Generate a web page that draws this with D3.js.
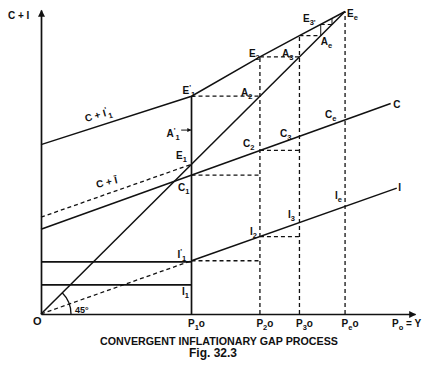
<!DOCTYPE html>
<html>
<head>
<meta charset="utf-8">
<script src="https://cdn.jsdelivr.net/npm/d3@7"></script>
<style>
  body { margin: 0; background: #fff; }
  text { font-family: "Liberation Sans", Arial, sans-serif; font-weight: bold; fill: #111; }
</style>
</head>
<body>
<script>
// values, in units where O = (0,0) and Ee = (100,100)
var periods = ["1", "2", "3", "e"];
var pValues = [49.5, 72, 85, 100];        // P1o, P2o, P3o, Peo
var eValues = [72, 85, 92, 100];          // E'1, E2, E3', Ee on the C + I' line
var cValues = [45.9, 54.1, 58.8, 64.2];   // C1, C2, C3, Ce
var iValues = [17.6, 25.6, 30.2, 35.5];   // I'1, I2, I3, Ie
var topStart = 56;                        // C + I'1 at the vertical axis
var cLine = [[0, 28], [115, 69.6]];
var ciLine = [[0, 32], [49.5, 49.5]];     // dashed C + I up to E1
var iLine = [[0, 0], [49.5, 17.6], [117, 41.6]];
var iLevels = [17.2, 9.6];                // flat I'1 and I1 lines
var nextStep = [95.7, 97.7];

var width = 440, height = 371;

var svg = d3.select("body").append("svg")
    .attr("width", width)
    .attr("height", height);

var x = d3.scaleLinear().domain([0, 123]).range([41, 415]);
var y = d3.scaleLinear().domain([0, 100.5]).range([314, 10]);

var line = d3.line()
    .x(function(d) { return x(d[0]); })
    .y(function(d) { return y(d[1]); });

// arrow heads
var defs = svg.append("defs");
function marker(id, w, h) {
  defs.append("marker")
      .attr("id", id)
      .attr("markerUnits", "userSpaceOnUse")
      .attr("viewBox", "0 0 10 10")
      .attr("refX", 9).attr("refY", 5)
      .attr("markerWidth", w).attr("markerHeight", h)
      .attr("orient", "auto")
    .append("path")
      .attr("d", "M0,0 L10,5 L0,10 Z")
      .attr("fill", "#111");
}
marker("arrow", 9, 7);
marker("small", 5, 4);

// axes
svg.append("g")
    .attr("transform", "translate(0," + y(0) + ")")
    .call(d3.axisBottom(x).tickValues([]).tickSizeOuter(0));
svg.append("g")
    .attr("transform", "translate(" + x(0) + ",0)")
    .call(d3.axisLeft(y).tickValues([]).tickSizeOuter(0));
svg.selectAll(".domain")
    .attr("stroke", "#111")
    .attr("stroke-width", 1.7)
    .attr("marker-end", "url(#arrow)");

function draw(pts, dashed, w) {
  return svg.append("path")
      .attr("d", line(pts))
      .attr("fill", "none")
      .attr("stroke", "#111")
      .attr("stroke-width", w || (dashed ? 1.3 : 1.5))
      .attr("stroke-dasharray", dashed ? "4,3" : null);
}

// solid lines
var topLine = [[0, topStart]].concat(pValues.map(function(p, i) { return [p, eValues[i]]; }));
draw(topLine);
draw([[0, 0], [100, 100]]);
draw(cLine);
draw([iLine[1], iLine[2]]);
iLevels.forEach(function(v) { draw([[0, v], [pValues[0], v]], false, 1.8); });
draw([[pValues[0], 0], [pValues[0], eValues[0]]], false, 1.7);

// dashed lines
draw(ciLine, true);
draw([iLine[0], iLine[1]], true);
pValues.slice(1).forEach(function(p, i) { draw([[p, 0], [p, eValues[i + 1]]], true); });
for (var k = 0; k < 3; k++) {
  draw([[pValues[k], eValues[k]], [eValues[k], eValues[k]]], true);
}
for (var k = 0; k < 2; k++) {
  draw([[pValues[k], cValues[k]], [pValues[k + 1], cValues[k]]], true);
  draw([[pValues[k], iValues[k]], [pValues[k + 1], iValues[k]]], true);
}
draw([[eValues[2], eValues[2]], [eValues[2], nextStep[0]]], false, 1);
draw([[eValues[2], nextStep[0]], [nextStep[0], nextStep[0]]], true, 1);
draw([[nextStep[0], nextStep[0]], [nextStep[0], nextStep[1]]], false, 1);

// 45 degree arc
var arc = d3.path();
arc.moveTo(x(0) + 30, y(0));
arc.arc(x(0), y(0), 30, 0, -Math.PI / 4, true);
svg.append("path").attr("d", arc.toString())
    .attr("fill", "none").attr("stroke", "#111").attr("stroke-width", 1.3);

// labels with small subscripts / primes
function label(px, py, parts, size, anchor) {
  size = size || 10;
  var t = svg.append("text").attr("x", px).attr("y", py).attr("font-size", size);
  if (anchor) t.attr("text-anchor", anchor);
  var shift = 0;
  parts.forEach(function(p) {
    var s = typeof p === "string" ? { t: p } : p;
    var target = s.sub ? 3 : s.sup ? -4 : 0;
    var ts = t.append("tspan").attr("dy", target - shift).text(s.t);
    if (s.sub || s.sup) ts.attr("font-size", size * 0.75);
    shift = target;
  });
  return t;
}
function at(d, dx, dy, parts, size) {
  return label(x(d[0]) + dx, y(d[1]) + dy, parts, size);
}

var P = pValues, E = eValues, C = cValues, I = iValues;
at([P[0], E[0]], -9, -2, ["E", { t: "'", sup: true }, { t: "1", sub: true }]);
at([P[0], 60], -25, 4.5, ["A", { t: "'", sup: true }, { t: "1", sub: true }]);
draw([[P[0] - 3.4, 60.8], [P[0] - 0.2, 60.8]], false, 1).attr("marker-end", "url(#small)");
at([P[0], P[0]], -15.5, -5, ["E", { t: "1", sub: true }]);
at([P[0], C[0]], -13.5, 16, ["C", { t: "1", sub: true }]);
at([P[1], E[1]], -11, 0, ["E", { t: "2", sub: true }]);
at([P[1], P[1]], -19, 0, ["A", { t: "2", sub: true }]);
at([P[2], P[2]], -17.5, 0, ["A", { t: "3", sub: true }]);
at([P[2], E[2]], 3.5, -14, ["E", { t: "3", sub: true }, { t: "'", sub: true }]);
at([P[3], E[3]], 2, 5.5, ["E", { t: "e", sub: true }]);
at([E[2], E[2]], 0, 9, ["A", { t: "e", sub: true }]);
at([P[1], C[1]], -17, -3, ["C", { t: "2", sub: true }]);
at([P[2], C[2]], -19.5, 1, ["C", { t: "3", sub: true }]);
at([P[3], C[3]], -20, -2, ["C", { t: "e", sub: true }]);
at(cLine[1], 2.5, 4.5, ["C"]);
at(iLine[2], 1.5, 3, ["I"]);
at([P[3], I[3]], -10, -7.5, ["I", { t: "e", sub: true }]);
at([P[2], I[2]], -11.5, -4.5, ["I", { t: "3", sub: true }]);
at([P[1], I[1]], -10, -1.5, ["I", { t: "2", sub: true }]);
at([P[0], I[0]], -14, -3, ["I", { t: "'", sup: true }, { t: "1", sub: true }]);
at([P[0], iLevels[1]], -9.5, 10, ["I", { t: "1", sub: true }]);

label(33, 325, ["O"], 11);
label(75, 313, ["45°"], 9);
label(8, 19, ["C + I"], 10);

// tick labels on the income axis
P.forEach(function(p, i) {
  label(x(p) - 3.5, 327, ["P", { t: periods[i], sub: true }, "o"], 10);
});
label(392, 327, ["P", { t: "o", sub: true }, " = Y"], 10);

// line labels
label(0, 0, ["C + I", { t: "'", sup: true }, { t: "1", sub: true }], 10)
    .attr("transform", "translate(86,122) rotate(-16)");
label(0, 0, ["C + Ī"], 10)
    .attr("transform", "translate(97,188) rotate(-13)");

// caption
label(219, 345, ["CONVERGENT INFLATIONARY GAP PROCESS"], 10.5, "middle")
    .attr("textLength", 238).attr("lengthAdjust", "spacingAndGlyphs");
label(213, 357, ["Fig. 32.3"], 12, "middle");
</script>
</body>
</html>
